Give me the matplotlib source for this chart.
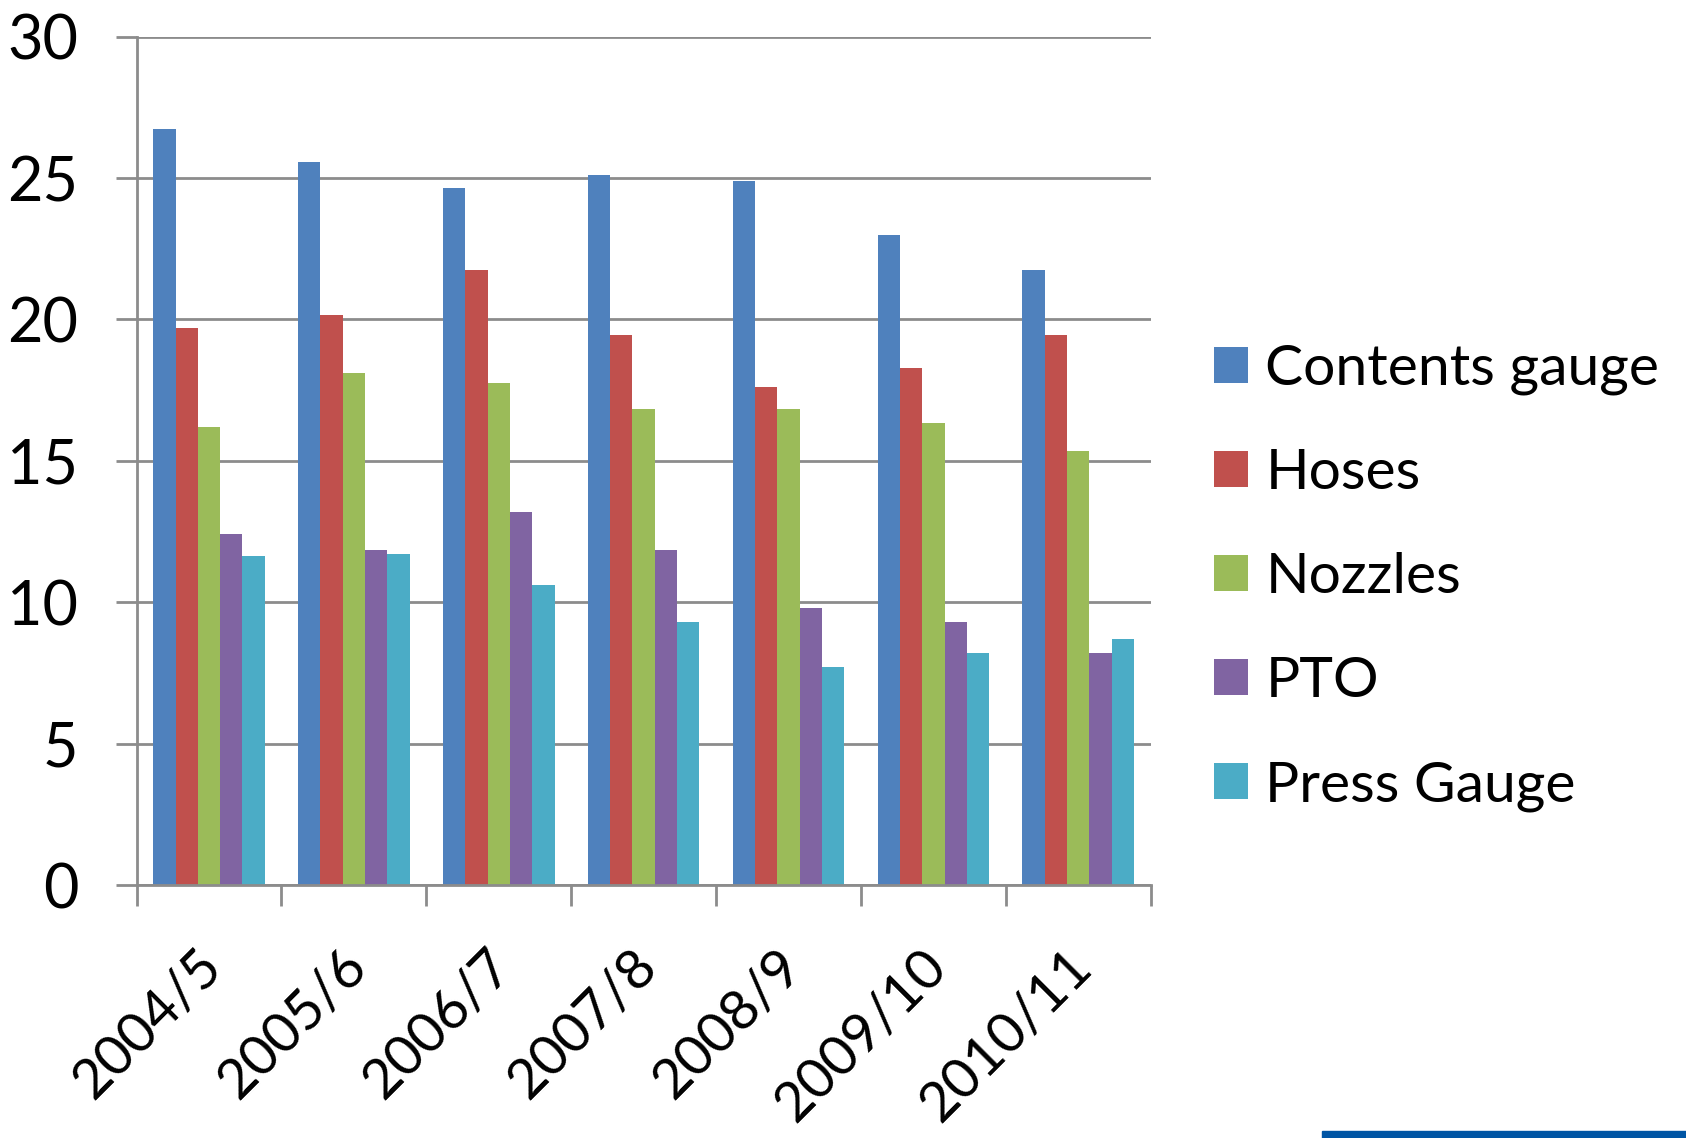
import numpy as np
import matplotlib.pyplot as plt
import matplotlib.transforms as mtransforms
from matplotlib.patches import Rectangle

# данные
years = ['2004/5', '2005/6', '2006/7', '2007/8', '2008/9', '2009/10', '2010/11']
contents_gauge = [26.75, 25.55, 24.65, 25.1, 24.9, 23.0, 21.75]
hoses = [19.7, 20.15, 21.75, 19.45, 17.6, 18.3, 19.45]
nozzles = [16.2, 18.1, 17.75, 16.85, 16.85, 16.35, 15.35]
pto = [12.4, 11.85, 13.2, 11.85, 9.8, 9.3, 8.2]
press_gauge = [11.65, 11.7, 10.6, 9.3, 7.7, 8.2, 8.7]

series = [contents_gauge, hoses, nozzles, pto, press_gauge]
labels = ['Contents gauge', 'Hoses', 'Nozzles', 'PTO', 'Press Gauge']
colors = ['#4F81BD', '#C0504D', '#9BBB59', '#8064A2', '#4BACC6']

plt.rcParams['font.family'] = ['Lato', 'DejaVu Sans']
grid_col = '#8C8C8C'

fig = plt.figure(figsize=(16.86, 11.38), dpi=100)
ax = fig.add_axes([0.081, 0.2223, 0.6015, 0.7455])

x = np.arange(len(years))
width = 0.77 / len(series)
for i, (vals, lab, col) in enumerate(zip(series, labels, colors)):
    ax.bar(x - 0.385 + width * (i + 0.5), vals, width, color=col, label=lab,
           zorder=3, edgecolor='none')

ax.set_xlim(-0.5, len(years) - 0.5)
ax.set_ylim(0, 30)
ax.set_yticks(range(0, 31, 5))
ax.yaxis.grid(True, color=grid_col, linewidth=2, zorder=0)

# подписи по центру категорий, засечки между категориями
ax.set_xticks(x)
ax.set_xticklabels(years, rotation=45, ha='right', va='top', rotation_mode='anchor')
ax.set_xticks(np.arange(-0.5, len(years), 1), minor=True)
ax.tick_params(axis='x', which='major', length=0, pad=40, labelsize=40)
ax.tick_params(axis='x', which='minor', length=15, width=2, color=grid_col)
ax.tick_params(axis='y', length=15, width=2, color=grid_col, pad=27, labelsize=44)

# сдвиг подписей влево
offset = mtransforms.ScaledTranslation(-0.13, 0, fig.dpi_scale_trans)
for t in ax.get_xticklabels():
    t.set_transform(t.get_transform() + offset)

for s in ['top', 'right']:
    ax.spines[s].set_visible(False)
for s in ['left', 'bottom']:
    ax.spines[s].set_color(grid_col)
    ax.spines[s].set_linewidth(2)
    ax.spines[s].set_zorder(4)

ax.legend(loc='center left', bbox_to_anchor=(1.04, 0.362), frameon=False,
          fontsize=41, handlelength=0.6, handleheight=0.6,
          handletextpad=0.3, labelspacing=0.93, borderaxespad=0)

# синяя полоска внизу справа
fig.patches.append(Rectangle((1322 / 1686, 0), 1 - 1322 / 1686, 7 / 1138,
                             transform=fig.transFigure, color='#0055A4', zorder=5))

plt.savefig('out.png', dpi=100)
